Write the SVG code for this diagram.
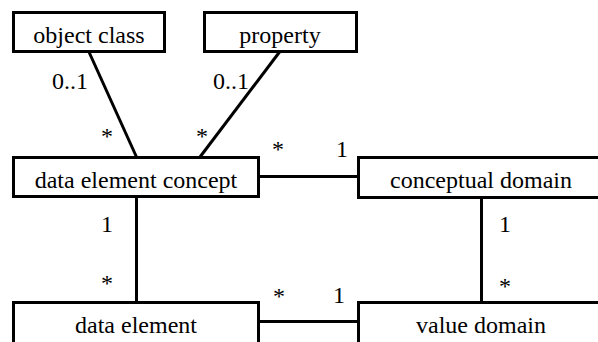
<svg xmlns="http://www.w3.org/2000/svg" width="598" height="342" viewBox="0 0 598 342">
<style>
.box{fill:#fff;stroke:#000;stroke-width:3}
text{font-family:'Liberation Serif','DejaVu Serif',serif;font-size:24px;fill:#000;text-anchor:middle}
.conn line{stroke:#000;stroke-width:3}
</style>
<rect width="598" height="342" fill="#fff"/>
<g class="conn" id="connectors">
<line x1="89" y1="52" x2="136.5" y2="157"/>
<line x1="279.5" y1="52" x2="200" y2="157"/>
<line x1="258.5" y1="176.5" x2="358.5" y2="176.5"/>
<line x1="136.5" y1="196.5" x2="136.5" y2="302.5"/>
<line x1="481.5" y1="197.5" x2="481.5" y2="302.5"/>
<line x1="258.5" y1="321.5" x2="358.5" y2="321.5"/>
</g>
<g id="object-class"><rect class="box" x="13.5" y="12.5" width="151" height="39"/><text font-family="Liberation Serif" x="89" y="43">object class</text></g>
<g id="property"><rect class="box" x="204.5" y="12.5" width="152" height="39"/><text font-family="Liberation Serif" x="280" y="43">property</text></g>
<g id="data-element-concept"><rect class="box" x="13.5" y="157.5" width="245" height="39"/><text font-family="Liberation Serif" x="136" y="188">data element concept</text></g>
<g id="conceptual-domain"><rect class="box" x="358.5" y="157.5" width="250" height="40"/><text font-family="Liberation Serif" x="481" y="188">conceptual domain</text></g>
<g id="data-element"><rect class="box" x="13.5" y="302.5" width="245" height="50"/><text font-family="Liberation Serif" x="136" y="333">data element</text></g>
<g id="value-domain"><rect class="box" x="358.5" y="302.5" width="250" height="50"/><text font-family="Liberation Serif" x="481" y="333">value domain</text></g>
<g id="multiplicities" font-family="Liberation Serif">
<text x="70" y="89">0..1</text>
<text x="107" y="144">*</text>
<text x="231" y="89">0..1</text>
<text x="202" y="144">*</text>
<text x="278" y="157">*</text>
<text x="342" y="157">1</text>
<text x="107" y="232">1</text>
<text x="107" y="291">*</text>
<text x="505" y="232">1</text>
<text x="505" y="294">*</text>
<text x="279" y="304">*</text>
<text x="339" y="303">1</text>
</g>
</svg>
